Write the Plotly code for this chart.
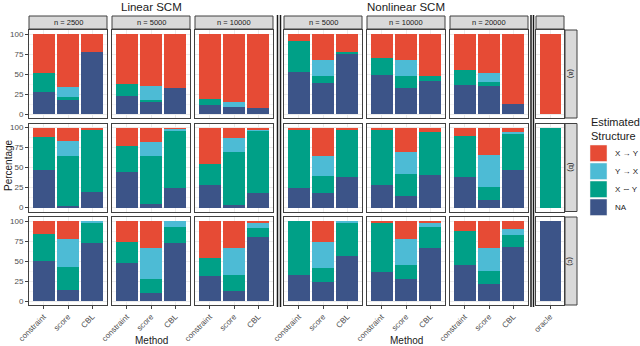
import plotly.graph_objects as go
from plotly.subplots import make_subplots

W, H = 640, 346

methods = ["constraint", "score", "CBL"]
group_titles = ["Linear SCM", "Nonlinear SCM"]
sample_sizes = ["n = 2500", "n = 5000", "n = 10000", "n = 5000", "n = 10000", "n = 20000"]
row_labels = ["(a)", "(b)", "(c)"]
structures = ["X \u2192 Y", "Y \u2192 X", "X \u223c Y", "NA"]
colors = ["#E64B35", "#4DBBD5", "#00A087", "#3C5488"]

# percentages; 3 values (constraint, score, CBL) per panel, panels in sample_sizes order
na_a = [27, 17, 77, 22, 16, 33, 11, 9, 7, 53, 39, 75, 49, 33, 41, 36, 35, 13]
xsy_a = [24, 4, 0, 15, 2, 0, 8, 0, 0, 38, 8, 3, 21, 15, 6, 19, 5, 0]
yx_a = [0, 13, 0, 0, 17, 0, 0, 6, 0, 0, 20, 0, 0, 20, 0, 0, 11, 0]
xy_a = [49, 66, 23, 63, 65, 67, 81, 85, 93, 9, 33, 22, 30, 32, 53, 45, 49, 87]

na_b = [47, 2, 19, 45, 4, 25, 28, 3, 18, 25, 18, 38, 28, 14, 41, 38, 9, 47]
xsy_b = [41, 63, 79, 32, 61, 72, 27, 66, 79, 73, 22, 60, 70, 28, 54, 52, 17, 46]
yx_b = [0, 18, 0, 0, 17, 2, 0, 18, 1, 0, 24, 0, 0, 28, 0, 0, 40, 2]
xy_b = [12, 17, 2, 23, 18, 1, 45, 13, 2, 2, 36, 2, 2, 30, 5, 10, 34, 5]

na_c = [50, 14, 72, 48, 10, 73, 31, 12, 80, 33, 24, 56, 36, 27, 66, 45, 21, 67]
xsy_c = [34, 28, 25, 26, 18, 20, 23, 21, 11, 67, 17, 42, 62, 18, 27, 43, 16, 16]
yx_c = [0, 36, 3, 0, 38, 7, 0, 33, 6, 0, 33, 2, 0, 32, 4, 0, 29, 7]
xy_c = [16, 22, 0, 26, 34, 0, 46, 34, 3, 0, 26, 0, 2, 23, 3, 12, 34, 10]

oracle_label = ["oracle"]
# oracle: X->Y, Y->X, X~Y, NA for each row
oracle_a = [100, 0, 0, 0]
oracle_b = [0, 0, 100, 0]
oracle_c = [0, 0, 0, 100]

rows_data = [
    [xy_a, yx_a, xsy_a, na_a],
    [xy_b, yx_b, xsy_b, na_b],
    [xy_c, yx_c, xsy_c, na_c],
]
oracle_data = [oracle_a, oracle_b, oracle_c]

col_px = [(29, 107), (112, 190), (195, 273), (284, 362), (367, 445), (450, 528), (536, 564)]
row_px = [(30, 118), (123.5, 211.5), (217, 305)]

FONT = "Liberation Sans, Arial, sans-serif"
BORDER = "#404040"

fig = make_subplots(rows=3, cols=7)

for r in range(3):
    for c in range(7):
        for s in [3, 2, 1, 0]:  # stack bottom -> top: NA, X~Y, Y->X, X->Y
            if c < 6:
                x = methods
                y = rows_data[r][s][3 * c:3 * c + 3]
            else:
                x = oracle_label
                y = [oracle_data[r][s]]
            fig.add_trace(go.Bar(x=x, y=y, marker_color=colors[s], marker_line_width=0,
                                 showlegend=False, name=structures[s]),
                          row=r + 1, col=c + 1)
        x0, x1 = col_px[c]
        y0, y1 = row_px[r]
        cats = methods if c < 6 else oracle_label
        fig.update_xaxes(domain=[x0 / W, x1 / W], type="category", categoryorder="array",
                         categoryarray=cats, range=[-0.6, len(cats) - 0.4],
                         showline=True, mirror=True, linecolor=BORDER, linewidth=1,
                         showgrid=True, gridcolor="#EBEBEB", gridwidth=1, zeroline=False,
                         showticklabels=(r == 2), ticks="outside" if r == 2 else "",
                         ticklen=3, tickcolor=BORDER, tickangle=-45,
                         tickfont=dict(size=8, color="#4D4D4D", family=FONT),
                         automargin=False, row=r + 1, col=c + 1)
        fig.update_yaxes(domain=[1 - y1 / H, 1 - y0 / H], range=[-5, 105],
                         tickvals=[0, 25, 50, 75, 100],
                         showline=True, mirror=True, linecolor=BORDER, linewidth=1,
                         showgrid=True, gridcolor="#EBEBEB", gridwidth=1, zeroline=False,
                         minor=dict(dtick=12.5, showgrid=True, gridcolor="#F5F5F5"),
                         showticklabels=(c == 0), ticks="outside" if c == 0 else "",
                         ticklen=3, tickcolor=BORDER,
                         tickfont=dict(size=8, color="#4D4D4D", family=FONT),
                         automargin=False, row=r + 1, col=c + 1)

shapes = []
annotations = []


def px(x):
    return x / W


def py(y):
    return 1 - y / H


def label(text, x, y, size, **kw):
    d = dict(text=text, x=px(x), y=py(y), xref="paper", yref="paper", showarrow=False,
             xanchor="center", yanchor="middle",
             font=dict(size=size, color="#1A1A1A", family=FONT))
    d.update(kw)
    annotations.append(d)


# top strips
for c in range(7):
    x0, x1 = col_px[c]
    shapes.append(dict(type="rect", xref="paper", yref="paper", x0=px(x0), x1=px(x1),
                       y0=py(29), y1=py(16), fillcolor="#D9D9D9",
                       line=dict(color=BORDER, width=1), layer="below"))
    if c < 6:
        label(sample_sizes[c], (x0 + x1) / 2, 22.5, 7.5)

# right strips
for r in range(3):
    y0, y1 = row_px[r]
    shapes.append(dict(type="rect", xref="paper", yref="paper", x0=px(565), x1=px(577),
                       y0=py(y1), y1=py(y0), fillcolor="#D9D9D9",
                       line=dict(color=BORDER, width=1), layer="below"))
    label(row_labels[r], 571, (y0 + y1) / 2, 7.5, textangle=90)

# group separators
for xs in [277.5, 280.5, 531, 533.5]:
    shapes.append(dict(type="line", xref="paper", yref="paper", x0=px(xs), x1=px(xs),
                       y0=py(307), y1=py(15), line=dict(color="#1A1A1A", width=1.5)))

# titles
for i, t in enumerate(group_titles):
    cx = (col_px[3 * i][0] + col_px[3 * i + 2][1]) / 2
    label(t, cx, 7, 11.5)
    label("Method", cx, 340, 10)

label("Percentage", 8, 165, 10, textangle=-90)

# legend
label("Estimated<br>Structure", 589, 114, 11, xanchor="left", yanchor="top", align="left")
key_top = [145, 163, 181, 199]
for i, s in enumerate(structures):
    shapes.append(dict(type="rect", xref="paper", yref="paper", x0=px(590), x1=px(607),
                       y0=py(key_top[i] + 16.5), y1=py(key_top[i]), fillcolor=colors[i],
                       line=dict(color="#F2F2F2", width=0.5)))
    label(s, 613, key_top[i] + 8.5, 8, xanchor="left")

fig.update_layout(width=W, height=H, autosize=False, template="none",
                  margin=dict(l=0, r=0, t=0, b=0, pad=0, autoexpand=False),
                  barmode="stack", bargap=0.1,
                  plot_bgcolor="white", paper_bgcolor="white",
                  shapes=shapes, annotations=annotations, showlegend=False,
                  font=dict(family=FONT))

fig.write_html("out.html", config={"displayModeBar": False},
               post_script="document.body.style.margin='0';document.body.style.overflow='hidden';")
